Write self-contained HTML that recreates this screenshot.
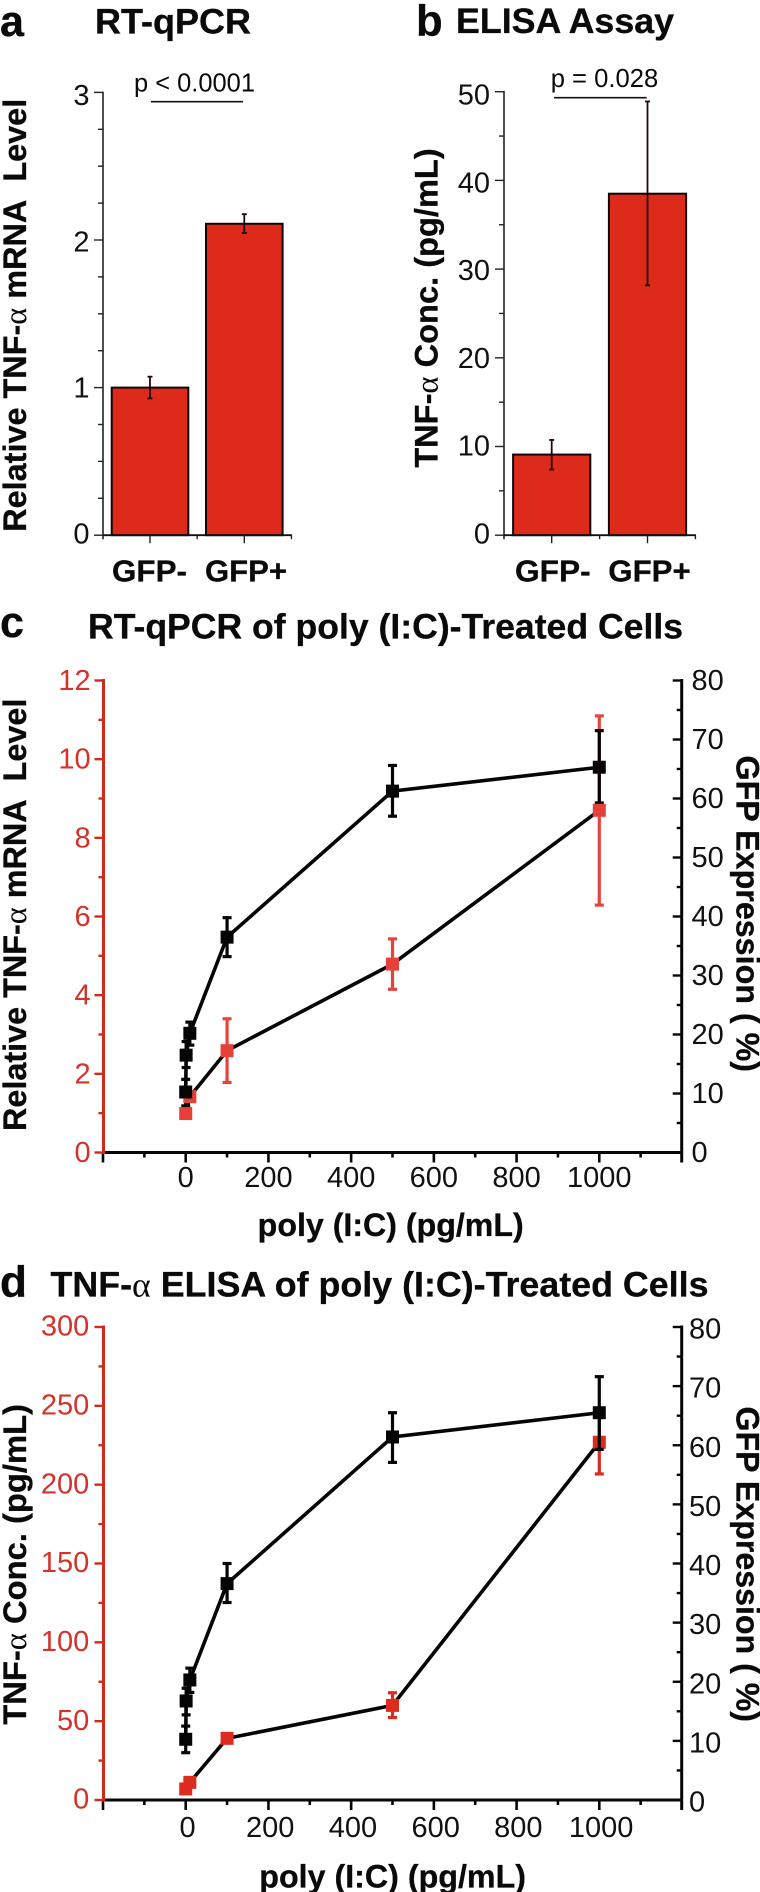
<!DOCTYPE html>
<html lang="en">
<head>
<meta charset="utf-8">
<title>TNF-alpha expression charts</title>
<style>
html,body{margin:0;padding:0;background:#fff;}
svg{display:block;}
text{font-family:"Liberation Sans",sans-serif;fill:#0a0a0a;}
.b{font-weight:bold;stroke:#0a0a0a;stroke-width:0.3;}
.al{font-family:"Liberation Serif",serif;font-weight:normal;stroke:none;}
</style>
</head>
<body>
<svg id="fig" xmlns="http://www.w3.org/2000/svg" width="760" height="1892" viewBox="0 0 760 1892">
<rect x="0" y="0" width="760" height="1892" fill="#fff"/>

<text class="b" x="0" y="36" font-size="44" textLength="24" lengthAdjust="spacingAndGlyphs">a</text>
<text class="b" x="95" y="33.5" font-size="35.5" textLength="156" lengthAdjust="spacingAndGlyphs">RT-qPCR</text>
<text x="134" y="91.7" font-size="26" textLength="121" lengthAdjust="spacingAndGlyphs">p &lt; 0.0001</text>
<line x1="151" x2="243" y1="101.7" y2="101.7" stroke="#111" stroke-width="1.6"/>
<text class="b" transform="translate(26,531.8) rotate(-90)" font-size="32" textLength="433" lengthAdjust="spacingAndGlyphs">Relative TNF-<tspan class="al">α</tspan> mRNA&#160; Level</text>
<text class="b" x="112" y="581.5" font-size="31" textLength="75" lengthAdjust="spacingAndGlyphs">GFP-</text>
<text class="b" x="205" y="581.5" font-size="31" textLength="82" lengthAdjust="spacingAndGlyphs">GFP+</text>

<text class="b" x="416" y="35.6" font-size="44" textLength="26.7" lengthAdjust="spacingAndGlyphs">b</text>
<text class="b" x="456" y="33.2" font-size="35.3" textLength="218" lengthAdjust="spacingAndGlyphs">ELISA Assay</text>
<text x="550.7" y="87" font-size="26" textLength="107.5" lengthAdjust="spacingAndGlyphs">p = 0.028</text>
<line x1="554" x2="646.7" y1="97.7" y2="97.7" stroke="#111" stroke-width="1.6"/>
<text class="b" transform="translate(437.3,467.8) rotate(-90)" font-size="32" textLength="319.5" lengthAdjust="spacingAndGlyphs">TNF-<tspan class="al">α</tspan> Conc. (pg/mL)</text>
<text class="b" x="515" y="581.5" font-size="31" textLength="75.7" lengthAdjust="spacingAndGlyphs">GFP-</text>
<text class="b" x="608.3" y="581.5" font-size="31" textLength="82.4" lengthAdjust="spacingAndGlyphs">GFP+</text>

<text class="b" x="0" y="637" font-size="44" textLength="24" lengthAdjust="spacingAndGlyphs">c</text>
<text class="b" x="88" y="638.4" font-size="35" textLength="595" lengthAdjust="spacingAndGlyphs">RT-qPCR of poly (I:C)-Treated Cells</text>
<text class="b" transform="translate(26,1131) rotate(-90)" font-size="32" textLength="432.4" lengthAdjust="spacingAndGlyphs">Relative TNF-<tspan class="al">α</tspan> mRNA&#160; Level</text>
<text class="b" transform="translate(736.5,755.5) rotate(90)" font-size="32" textLength="316.5" lengthAdjust="spacingAndGlyphs">GFP Expression ( %)</text>
<text class="b" x="257.7" y="1236.2" font-size="32" textLength="266" lengthAdjust="spacingAndGlyphs">poly (I:C) (pg/mL)</text>

<text class="b" x="0" y="1296.7" font-size="44" textLength="27" lengthAdjust="spacingAndGlyphs">d</text>
<text class="b" x="50.5" y="1296.7" font-size="35" textLength="658" lengthAdjust="spacingAndGlyphs">TNF-<tspan class="al">α</tspan> ELISA of poly (I:C)-Treated Cells</text>
<text class="b" transform="translate(26,1724.8) rotate(-90)" font-size="32" textLength="320.8" lengthAdjust="spacingAndGlyphs">TNF-<tspan class="al">α</tspan> Conc. (pg/mL)</text>
<text class="b" transform="translate(736.5,1406.5) rotate(90)" font-size="32" textLength="315.5" lengthAdjust="spacingAndGlyphs">GFP Expression ( %)</text>
<text class="b" x="259.3" y="1887.4" font-size="32" textLength="266.7" lengthAdjust="spacingAndGlyphs">poly (I:C) (pg/mL)</text>
</svg>

<script>
// Panel a data
const aCategories = ['GFP-', 'GFP+'];
const aValues = [1.0, 2.11];
const aErrHigh = [1.074, 2.175];
const aErrLow = [0.927, 2.047];
const aYTicks = [0, 1, 2, 3];
const aYLabels = ['0', '1', '2', '3'];
const aYMinor = [0.25, 0.5, 0.75, 1.25, 1.5, 1.75, 2.25, 2.5, 2.75];

// Panel b data
const bCategories = ['GFP-', 'GFP+'];
const bValues = [9.09, 38.5];
const bErrHigh = [10.74, 48.9];
const bErrLow = [7.4, 28.16];
const bYTicks = [0, 10, 20, 30, 40, 50];
const bYLabels = ['0', '10', '20', '30', '40', '50'];
const bYMinor = [5, 15, 25, 35, 45];

// Shared x axis of panels c and d
const doseTicks = [-200, 0, 200, 400, 600, 800, 1000];
const doseLabels = ['', '0', '200', '400', '600', '800', '1000'];
const doseMinor = [-100, 100, 300, 500, 700, 900, 1100];
const gfpTicks = [0, 10, 20, 30, 40, 50, 60, 70, 80];
const gfpLabels = ['0', '10', '20', '30', '40', '50', '60', '70', '80'];
const gfpMinor = [5, 15, 25, 35, 45, 55, 65, 75];

// Panel c data
const cLeftTicks = [0, 2, 4, 6, 8, 10, 12];
const cLeftLabels = ['0', '2', '4', '6', '8', '10', '12'];
const cLeftMinor = [1, 3, 5, 7, 9, 11];
const cRedDose = [0, 10, 100, 500, 1000];
const cRedValues = [0.99, 1.42, 2.59, 4.79, 8.7];
const cRedHigh = [1.05, 1.5, 3.4, 5.43, 11.1];
const cRedLow = [0.93, 1.34, 1.78, 4.15, 6.29];
const cBlackDose = [0, 1, 10, 100, 500, 1000];
const cBlackValues = [10.25, 16.5, 20.2, 36.5, 61.25, 65.3];
const cBlackHigh = [12.4, 18.8, 22.1, 39.8, 65.6, 71.5];
const cBlackLow = [7.9, 14.4, 18.2, 33.2, 57, 59.25];

// Panel d data
const dLeftTicks = [0, 50, 100, 150, 200, 250, 300];
const dLeftLabels = ['0', '50', '100', '150', '200', '250', '300'];
const dLeftMinor = [25, 75, 125, 175, 225, 275];
const dRedDose = [0, 10, 100, 500, 1000];
const dRedValues = [7, 11.2, 39.1, 60, 226.9];
const dRedHigh = [8, 12.5, 40, 68, 247];
const dRedLow = [6, 10, 38, 52.3, 206.8];
const dBlackDose = [0, 1, 10, 100, 500, 1000];
const dBlackValues = [10.27, 16.75, 20.3, 36.6, 61.4, 65.5];
const dBlackHigh = [12.5, 18.9, 22.3, 40, 65.5, 71.6];
const dBlackLow = [8, 14.4, 18.2, 33.4, 57.1, 59.3];

const NS = 'http://www.w3.org/2000/svg';
const fig = document.getElementById('fig');

function mk(tag, attrs, parent) {
  const el = document.createElementNS(NS, tag);
  for (const k in attrs) el.setAttribute(k, attrs[k]);
  parent.appendChild(el);
  return el;
}
function linear(d0, d1, r0, r1) {
  return function (v) { return r0 + (v - d0) * (r1 - r0) / (d1 - d0); };
}
function group(name, parent) {
  const g = mk('g', {}, parent);
  
  
  return g;
}
function tickLine(g, x1, y1, x2, y2, color, w, name) {
  const l = mk('line', { x1: x1, y1: y1, x2: x2, y2: y2, stroke: color, 'stroke-width': w }, g);
  
  
  return l;
}
function label(g, str, x, y, size, anchor, color, name) {
  const t = mk('text', { x: x, y: y, 'font-size': size, 'text-anchor': anchor, style: 'fill:' + color }, g);
  t.textContent = str;
  
  
  return t;
}
function verticalAxis(o) {
  const g = group(o.name, fig);
  const top = o.y(o.ticks[o.ticks.length - 1]);
  tickLine(g, o.x, top - o.w / 2, o.x, o.y(0) + o.extend, o.color, o.w, 'axis-line');
  const n = o.ticks.length - 1;
  o.ticks.forEach(function (v, i) {
    tickLine(g, o.x, o.y(v), o.x + o.dir * o.major, o.y(v), o.color, o.tw, 'major-tick');
    label(g, o.labels[i], o.labelX, o.y(v) + o.baseDy + o.topExtra * i / n, 29, o.anchor, o.textColor, 'tick-label');
  });
  o.minor.forEach(function (v) {
    tickLine(g, o.x, o.y(v), o.x + o.dir * o.minorLen, o.y(v), o.color, o.tw, 'minor-tick');
  });
}
function errorBar(g, x, yHigh, yLow, cap, color, w) {
  tickLine(g, x, yHigh, x, yLow, color, w, 'error-bar');
  tickLine(g, x - cap, yHigh, x + cap, yHigh, color, w, 'error-cap-high');
  tickLine(g, x - cap, yLow, x + cap, yLow, color, w, 'error-cap-low');
}

function barPanel(o) {
  const g = group(o.name, fig);
  o.categories.forEach(function (c, i) {
    const cx = o.cat(i);
    const bar = mk('rect', {
      x: cx - o.half, y: o.y(o.values[i]), width: o.half * 2,
      height: o.y(0) - o.y(o.values[i]),
      fill: '#dd2a1a', stroke: '#120505', 'stroke-width': 2
    }, g);
    
    
    errorBar(g, cx, o.y(o.errHigh[i]), o.y(o.errLow[i]), 2.5, '#1c0a08', 1.8);
  });
  verticalAxis({
    name: o.name + '-y-axis', x: o.axisX, y: o.y, ticks: o.yTicks, labels: o.yLabels, minor: o.yMinor,
    color: '#222', w: 1.6, tw: 1.4, dir: -1, major: 9, minorLen: 5, extend: 4,
    labelX: o.labelX, baseDy: 8.3, topExtra: 4.5, anchor: 'end', textColor: '#111'
  });
  const ax = group(o.name + '-x-axis', fig);
  const y0 = o.y(0);
  tickLine(ax, o.axisX, y0, o.axisEnd, y0, '#111', 1.8, 'axis-line');
  o.categories.forEach(function (c, i) {
    tickLine(ax, o.cat(i), y0, o.cat(i), y0 + 8, '#222', 1.4, 'major-tick');
  });
  [0.5, 1.5].forEach(function (v) {
    tickLine(ax, o.cat(v), y0, o.cat(v), y0 + 4, '#222', 1.4, 'minor-tick');
  });
}

function series(g, x, y, doses, values, name) {
  const pts = doses.map(function (d, i) { return x(d) + ',' + y(values[i]); }).join(' ');
  const line = mk('polyline', { points: pts, fill: 'none', stroke: '#050505', 'stroke-width': 3.6, 'stroke-linejoin': 'miter' }, g);
  
  
}
function markers(g, x, y, doses, values, color, name) {
  doses.forEach(function (d, i) {
    const m = mk('rect', { x: x(d) - 6.5, y: y(values[i]) - 6.5, width: 13, height: 13, fill: color }, g);
    
    
  });
}
function errors(g, x, y, doses, high, low, color) {
  doses.forEach(function (d, i) {
    errorBar(g, x(d), y(high[i]), y(low[i]), 4.5, color, 3.2);
  });
}

function linePanel(o) {
  const name = o.name;
  const x = linear(-200, 1200, 103, 682);
  const yL = linear(0, o.leftMax, o.y0, o.y1);
  const yR = linear(0, 80, o.y0, o.y1);
  const g = group(name + '-plot', fig);
  errors(g, x, yL, o.redDose, o.redHigh, o.redLow, o.redErr);
  if (!o.blackErrOnTop) errors(g, x, yR, o.blackDose, o.blackHigh, o.blackLow, '#050505');
  series(g, x, yL, o.redDose, o.redValues, 'tnf-series');
  series(g, x, yR, o.blackDose, o.blackValues, 'gfp-series');
  markers(g, x, yL, o.redDose, o.redValues, o.redMark, 'tnf-series');
  if (o.blackErrOnTop) errors(g, x, yR, o.blackDose, o.blackHigh, o.blackLow, '#050505');
  markers(g, x, yR, o.blackDose, o.blackValues, '#050505', 'gfp-series');

  const ax = group(name + '-x-axis', fig);
  tickLine(ax, 103, o.y0, 682, o.y0, '#050505', 3, 'axis-line');
  doseTicks.forEach(function (v, i) {
    tickLine(ax, x(v), o.y0, x(v), o.y0 + 10, '#050505', 2.6, 'major-tick');
    if (doseLabels[i]) label(ax, doseLabels[i], x(v) + o.xLabelDx, o.xLabelY, 29, 'middle', '#111', 'tick-label');
  });
  doseMinor.forEach(function (v) {
    tickLine(ax, x(v), o.y0, x(v), o.y0 + 5, '#050505', 2.6, 'minor-tick');
  });
  verticalAxis({
    name: name + '-left-axis', x: 103.5, y: yL, ticks: o.leftTicks, labels: o.leftLabels, minor: o.leftMinor,
    color: '#d02a1d', w: 3, tw: 2.4, dir: -1, major: 9, minorLen: 5, extend: 1.5,
    labelX: o.leftLabelX, baseDy: o.leftDy, topExtra: 0, anchor: 'end', textColor: '#d4322a'
  });
  verticalAxis({
    name: name + '-right-axis', x: 681.7, y: yR, ticks: gfpTicks, labels: gfpLabels, minor: gfpMinor,
    color: '#050505', w: 3, tw: 2.4, dir: -1, major: 9, minorLen: 5, extend: 10,
    labelX: o.rightLabelX, baseDy: o.rightDy, topExtra: 0, anchor: 'start', textColor: '#111'
  });
}

barPanel({
  name: 'panel-a', categories: aCategories, values: aValues, errHigh: aErrHigh, errLow: aErrLow,
  yTicks: aYTicks, yLabels: aYLabels, yMinor: aYMinor,
  y: linear(0, 3, 535.2, 92.4), cat: linear(0, 1, 150, 244.3), half: 38.3,
  axisX: 103, axisEnd: 292, labelX: 89.5
});
barPanel({
  name: 'panel-b', categories: bCategories, values: bValues, errHigh: bErrHigh, errLow: bErrLow,
  yTicks: bYTicks, yLabels: bYLabels, yMinor: bYMinor,
  y: linear(0, 50, 535.2, 91.7), cat: linear(0, 1, 551.7, 647.5), half: 38.6,
  axisX: 504, axisEnd: 696, labelX: 490
});
linePanel({
  name: 'panel-c', leftMax: 12, y0: 1152.5, y1: 680.5,
  leftTicks: cLeftTicks, leftLabels: cLeftLabels, leftMinor: cLeftMinor,
  redDose: cRedDose, redValues: cRedValues, redHigh: cRedHigh, redLow: cRedLow,
  blackDose: cBlackDose, blackValues: cBlackValues, blackHigh: cBlackHigh, blackLow: cBlackLow,
  redMark: '#e6403a', redErr: '#e5443d', blackErrOnTop: false,
  xLabelDx: 0, xLabelY: 1187, leftLabelX: 90.7, rightLabelX: 691.5, leftDy: 9.5, rightDy: 9.3
});
linePanel({
  name: 'panel-d', leftMax: 300, y0: 1800, y1: 1327,
  leftTicks: dLeftTicks, leftLabels: dLeftLabels, leftMinor: dLeftMinor,
  redDose: dRedDose, redValues: dRedValues, redHigh: dRedHigh, redLow: dRedLow,
  blackDose: dBlackDose, blackValues: dBlackValues, blackHigh: dBlackHigh, blackLow: dBlackLow,
  redMark: '#dc2c20', redErr: '#dc2c20', blackErrOnTop: true,
  xLabelDx: 1.8, xLabelY: 1837, leftLabelX: 89.3, rightLabelX: 689, leftDy: 8.7, rightDy: 11.5
});
</script>
</body>
</html>
